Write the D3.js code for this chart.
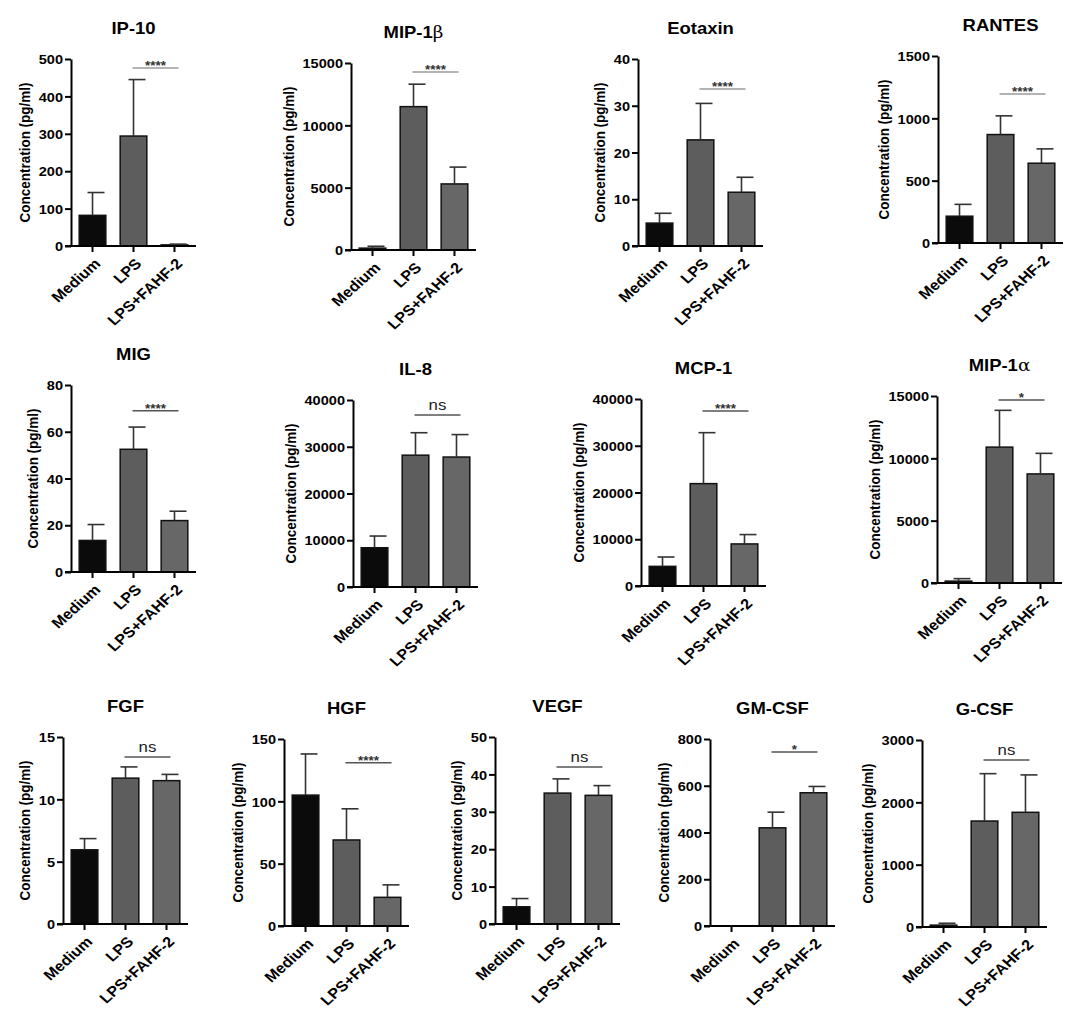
<!DOCTYPE html>
<html>
<head>
<meta charset="utf-8">
<script src="https://cdn.jsdelivr.net/npm/d3@7"></script>
<style>
  body { margin: 0; background: #fff; }
  svg { display: block; }
  text { font-family: "Liberation Sans", Arial, sans-serif; font-weight: bold; fill: #000; }
</style>
</head>
<body>
<div id="chart"></div>
<script>
// groups on every x axis
var groups = ["Medium", "LPS", "LPS+FAHF-2"];

// one entry per panel
var analytes = ["IP-10", "MIP-1\u03b2", "Eotaxin", "RANTES",
                "MIG", "IL-8", "MCP-1", "MIP-1\u03b1",
                "FGF", "HGF", "VEGF", "GM-CSF", "G-CSF"];

// mean concentration (pg/ml) per group
var means = [
  [82, 294, 3],
  [150, 11500, 5300],
  [4.9, 22.7, 11.5],
  [215, 870, 640],
  [13.5, 52.5, 22],
  [8400, 28200, 27800],
  [4200, 21900, 9000],
  [150, 10900, 8750],
  [5.95, 11.7, 11.5],
  [105, 69, 23],
  [4.6, 35, 34.4],
  [0, 420, 570],
  [30, 1700, 1840]
];

// upper error (SD) per group
var errors = [
  [61, 151, 2],
  [150, 1800, 1350],
  [2.1, 7.8, 3.2],
  [95, 150, 115],
  [6.8, 9.5, 4],
  [2500, 4800, 4800],
  [2000, 10900, 2000],
  [200, 2950, 1650],
  [0.9, 0.9, 0.5],
  [33, 25, 10],
  [2.2, 3.8, 2.6],
  [0, 67, 27],
  [30, 760, 600]
];

// LPS vs LPS+FAHF-2 comparison
var sigLabels = ["****", "****", "****", "****", "****", "ns", "****", "*", "ns", "****", "ns", "*", "ns"];
var sigLevels = [476, 14280, 33.6, 1195, 69, 36800, 37450, 14680, 13.4, 131, 42, 744, 2680];

// y axis extent and tick step
var yMax  = [500, 15000, 40, 1500, 80, 40000, 40000, 15000, 15, 150, 50, 800, 3000];
var yStep = [100, 5000, 10, 500, 20, 10000, 10000, 5000, 5, 50, 10, 200, 1000];

// layout (axis origin of each panel)
var panelX   = [71, 351, 638, 938, 71, 353, 641, 937, 63, 284, 495, 710, 922];
var panelTop = [59, 63, 59, 56, 385, 400, 399, 396, 737, 739, 737, 739, 740];
var plotW = 125, plotH = 187;
var SX = 1.12; // text in the figure is slightly wide
var fills = ["#0b0b0b", "#5d5d5d", "#676767"];

var svg = d3.select("#chart").append("svg")
  .attr("width", 1084).attr("height", 1023);

svg.append("rect").attr("width", 1084).attr("height", 1023).attr("fill", "#fff");

analytes.forEach(function(name, p) {
  var g = svg.append("g").attr("transform", "translate(" + panelX[p] + "," + panelTop[p] + ")");

  var x = d3.scaleBand().domain(groups).range([0, plotW])
    .paddingInner(0.35).paddingOuter(0.2);
  var y = d3.scaleLinear().domain([0, yMax[p]]).range([plotH, 0]);

  // bars
  g.selectAll("rect.bar").data(groups).enter().append("rect")
    .attr("class", "bar")
    .attr("x", function(d) { return x(d); })
    .attr("y", function(d, i) { return y(means[p][i]); })
    .attr("width", x.bandwidth())
    .attr("height", function(d, i) { return plotH - y(means[p][i]); })
    .attr("fill", function(d, i) { return fills[i]; })
    .attr("stroke", "#111")
    .attr("stroke-width", function(d, i) { return means[p][i] > 0 ? 1.5 : 0; });

  // error bars (upper whisker only)
  groups.forEach(function(d, i) {
    if (errors[p][i] <= 0) return;
    var cx = x(d) + x.bandwidth() / 2;
    var top = y(means[p][i] + errors[p][i]);
    g.append("line")
      .attr("x1", cx).attr("x2", cx)
      .attr("y1", y(means[p][i])).attr("y2", top)
      .attr("stroke", "#333").attr("stroke-width", 1.6);
    g.append("line")
      .attr("x1", cx - 5).attr("x2", cx + 12)
      .attr("y1", top).attr("y2", top)
      .attr("stroke", "#333").attr("stroke-width", 1.6);
  });

  // y axis
  var yAxis = g.append("g")
    .call(d3.axisLeft(y).tickValues(d3.range(0, yMax[p] + yStep[p] / 2, yStep[p]))
      .tickFormat(d3.format("d")).tickSize(6).tickSizeOuter(0));
  yAxis.selectAll("text")
    .attr("x", null).attr("dy", "0.36em")
    .attr("transform", "translate(-8,0) scale(" + SX + ",1)")
    .style("font-size", "13px").style("font-weight", "bold")
    .style("font-family", "'Liberation Sans', Arial, sans-serif");

  // x axis
  var xAxis = g.append("g").attr("transform", "translate(0," + plotH + ")")
    .call(d3.axisBottom(x).tickSize(6).tickSizeOuter(0));
  xAxis.selectAll("text")
    .attr("y", null).attr("dy", "0.35em")
    .attr("text-anchor", "end")
    .attr("transform", "translate(5,15) scale(" + SX + ",1) rotate(-45)")
    .style("font-size", "14.5px").style("font-weight", "bold")
    .style("font-family", "'Liberation Sans', Arial, sans-serif");

  g.selectAll(".domain").attr("stroke", "#000").attr("stroke-width", 2);
  g.selectAll(".tick line").attr("stroke", "#000").attr("stroke-width", 2);
  xAxis.select(".domain").attr("d", "M-6,0H" + plotW);

  // y label
  var bb = yAxis.node().getBBox();
  g.append("text")
    .attr("text-anchor", "middle")
    .attr("dy", "0.36em")
    .attr("transform", "translate(" + (bb.x - 14) + "," + (plotH / 2) + ") scale(" + SX + ",1) rotate(-90)")
    .style("font-size", "13.5px")
    .text("Concentration (pg/ml)");

  // title
  var t = g.append("text")
    .attr("text-anchor", "middle")
    .attr("transform", "translate(" + (plotW / 2) + ",-25) scale(" + SX + ",1)")
    .style("font-size", "16.5px");
  var greek = name.match(/[\u03b1\u03b2]$/);
  if (greek) {
    t.append("tspan").text(name.slice(0, -1));
    t.append("tspan").style("font-family", "'DejaVu Serif', serif")
      .style("font-weight", "normal").text(greek[0]);
  } else {
    t.text(name);
  }

  // significance bar
  var x1 = x(groups[1]) + x.bandwidth() / 2 - 1;
  var x2 = x(groups[2]) + x.bandwidth() / 2 + 4;
  var sy = y(sigLevels[p]);
  g.append("line")
    .attr("x1", x1).attr("x2", x2).attr("y1", sy).attr("y2", sy)
    .attr("stroke", p < 4 ? "#9a9a9a" : "#555").attr("stroke-width", 1.5);
  var ns = sigLabels[p] === "ns";
  g.append("text")
    .attr("text-anchor", "middle")
    .attr("transform", "translate(" + ((x1 + x2) / 2) + "," + (ns ? sy - 5 : sy + 2) + ") scale(" + SX + ",1)")
    .style("font-size", ns ? "15px" : "12px")
    .style("font-weight", ns ? "normal" : "bold")
    .style("fill", ns ? "#222" : "#333")
    .text(sigLabels[p]);
});
</script>
</body>
</html>
